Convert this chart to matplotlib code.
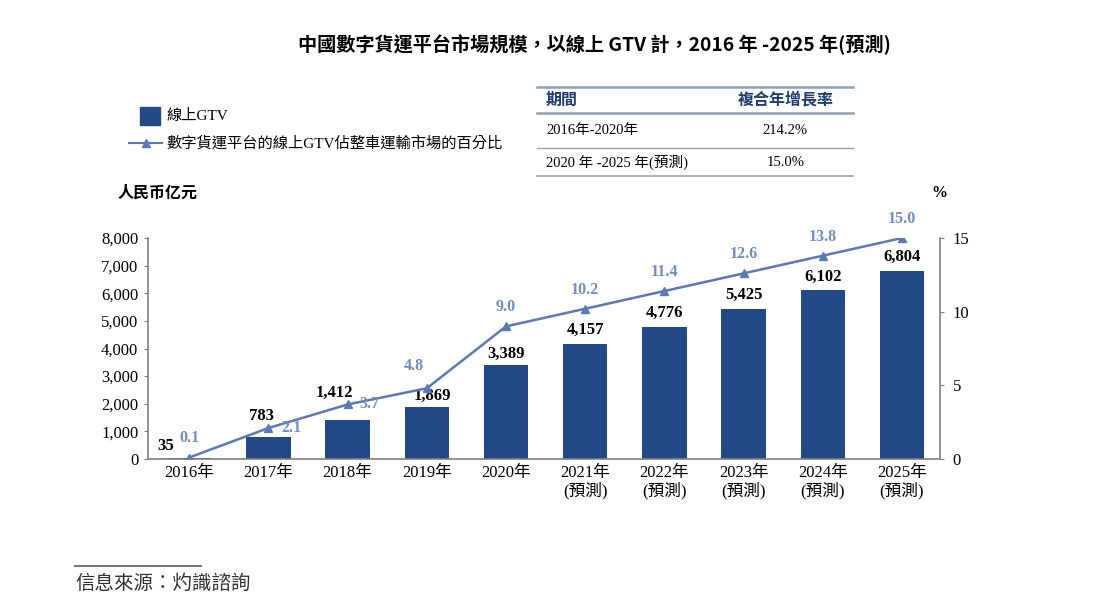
import numpy as np
import matplotlib.pyplot as plt

plt.rcParams['font.family'] = ['Liberation Serif', 'Noto Sans CJK TC']

years = ['2016年', '2017年', '2018年', '2019年', '2020年',
         '2021年\n(預測)', '2022年\n(預測)', '2023年\n(預測)', '2024年\n(預測)', '2025年\n(預測)']
gtv = [35, 783, 1412, 1869, 3389, 4157, 4776, 5425, 6102, 6804]
share = [0.1, 2.1, 3.7, 4.8, 9.0, 10.2, 11.4, 12.6, 13.8, 15.0]

bar_color = '#234a87'
line_color = '#5b7ab3'
label_blue = '#6f8dc4'
axis_gray = '#808080'

fig = plt.figure(figsize=(11.03, 6.16), dpi=100)
ax = fig.add_axes([0.1342, 0.2549, 0.718, 0.3587])
ax2 = ax.twinx()

x = np.arange(len(years))
ax.bar(x, gtv, width=0.56, color=bar_color, zorder=2)
ax.set_xlim(-0.52, 9.48)
ax.set_ylim(0, 8000)
ax.set_yticks(np.arange(0, 8001, 1000))
ax.set_yticklabels([f'{v:,}' for v in range(0, 8001, 1000)], fontsize=12)
ax.set_xticks(x)
ax.set_xticklabels(years, fontsize=12, linespacing=1.1)
ax.tick_params(axis='x', length=0, pad=4)
ax.tick_params(axis='y', length=3, color=axis_gray, pad=4)

for s in ['top', 'right']:
    ax.spines[s].set_visible(False)
for s in ['left', 'bottom']:
    ax.spines[s].set_color(axis_gray)
    ax.spines[s].set_linewidth(1.2)

# offsets of bar value labels in pixels (dx, dy)
bar_off = [(-24, 12), (-7, 21), (-13, 27), (6, 11), (0, 12), (0, 14), (0, 14), (0, 14), (0, 14), (0, 14)]
for xi, v, (dx, dy) in zip(x, gtv, bar_off):
    ax.annotate(f'{v:,}', (xi, v), xytext=(dx * 0.72, dy * 0.72), textcoords='offset points',
                ha='center', va='center', fontsize=12, fontweight='bold', color='black')

ax2.plot(x, share, color=line_color, lw=1.8, marker='^', ms=6, zorder=3)
ax2.set_ylim(0, 15)
ax2.set_yticks([0, 5, 10, 15])
ax2.set_yticklabels(['0', '5', '10', '15'], fontsize=12)
ax2.tick_params(axis='y', length=3, color=axis_gray, pad=6)
for s in ['top', 'left', 'bottom']:
    ax2.spines[s].set_visible(False)
ax2.spines['right'].set_color(axis_gray)
ax2.spines['right'].set_linewidth(1.2)

# offsets of share labels in pixels (dx, dy, ha)
share_off = [(0, 20, 'center'), (13, 0, 'left'), (12, 0, 'left'), (-13, 22, 'center'),
             (0, 19, 'center'), (0, 19, 'center'), (0, 19, 'center'), (0, 19, 'center'),
             (0, 19, 'center'), (0, 19, 'center')]
for xi, v, (dx, dy, ha) in zip(x, share, share_off):
    ax2.annotate(f'{v:.1f}', (xi, v), xytext=(dx * 0.72, dy * 0.72), textcoords='offset points',
                 ha=ha, va='center', fontsize=11.5, fontweight='bold', color=label_blue)

# title
fig.text(0.539, 0.928, '中國數字貨運平台市場規模，以線上 GTV 計，2016 年 -2025 年(預測)',
         ha='center', va='center', fontsize=13.8, fontweight='bold',
         family=['Noto Sans CJK TC'])

# legend
fig.patches.append(plt.Rectangle((0.127, 0.797), 0.018, 0.03, transform=fig.transFigure,
                                 color=bar_color))
fig.text(0.151, 0.811, '線上GTV', ha='left', va='center', fontsize=11)
fig.lines.append(plt.Line2D([0.117, 0.147], [0.768, 0.768], transform=fig.transFigure,
                            color=line_color, lw=1.5))
fig.lines.append(plt.Line2D([0.132], [0.768], transform=fig.transFigure,
                            color=line_color, marker='^', ms=6, lw=0))
fig.text(0.151, 0.768, '數字貨運平台的線上GTV佔整車運輸市場的百分比',
         ha='left', va='center', fontsize=11)

fig.text(0.107, 0.686, '人民币亿元', ha='left', va='center', fontsize=11.5, fontweight='bold')
fig.text(0.852, 0.686, '%', ha='center', va='center', fontsize=11.5, fontweight='bold')

# CAGR table
tl, tr = 0.487, 0.773
for yy, lw, c in [(0.858, 1.8, '#8fa0b8'), (0.817, 1.8, '#8fa0b8'),
                  (0.759, 1.0, '#a0a0a0'), (0.714, 1.2, '#a0a0a0')]:
    fig.lines.append(plt.Line2D([tl, tr], [yy, yy], transform=fig.transFigure,
                                color=c, lw=lw))
fig.text(0.495, 0.838, '期間', ha='left', va='center', fontsize=11.5,
         fontweight='bold', color='#1f3d70', family=['Noto Sans CJK TC'])
fig.text(0.712, 0.838, '複合年增長率', ha='center', va='center', fontsize=11.5,
         fontweight='bold', color='#1f3d70', family=['Noto Sans CJK TC'])
fig.text(0.495, 0.788, '2016年-2020年', ha='left', va='center', fontsize=10.5)
fig.text(0.712, 0.788, '214.2%', ha='center', va='center', fontsize=10.5)
fig.text(0.495, 0.737, '2020 年 -2025 年(預測)', ha='left', va='center', fontsize=10.5)
fig.text(0.712, 0.737, '15.0%', ha='center', va='center', fontsize=10.5)

# source
fig.lines.append(plt.Line2D([0.068, 0.182], [0.081, 0.081], transform=fig.transFigure,
                            color='#777777', lw=1.5))
fig.text(0.068, 0.053, '信息來源：灼識諮詢', ha='left', va='center', fontsize=14,
         style='italic', color='#333333')

fig.savefig('out.png', dpi=100)
